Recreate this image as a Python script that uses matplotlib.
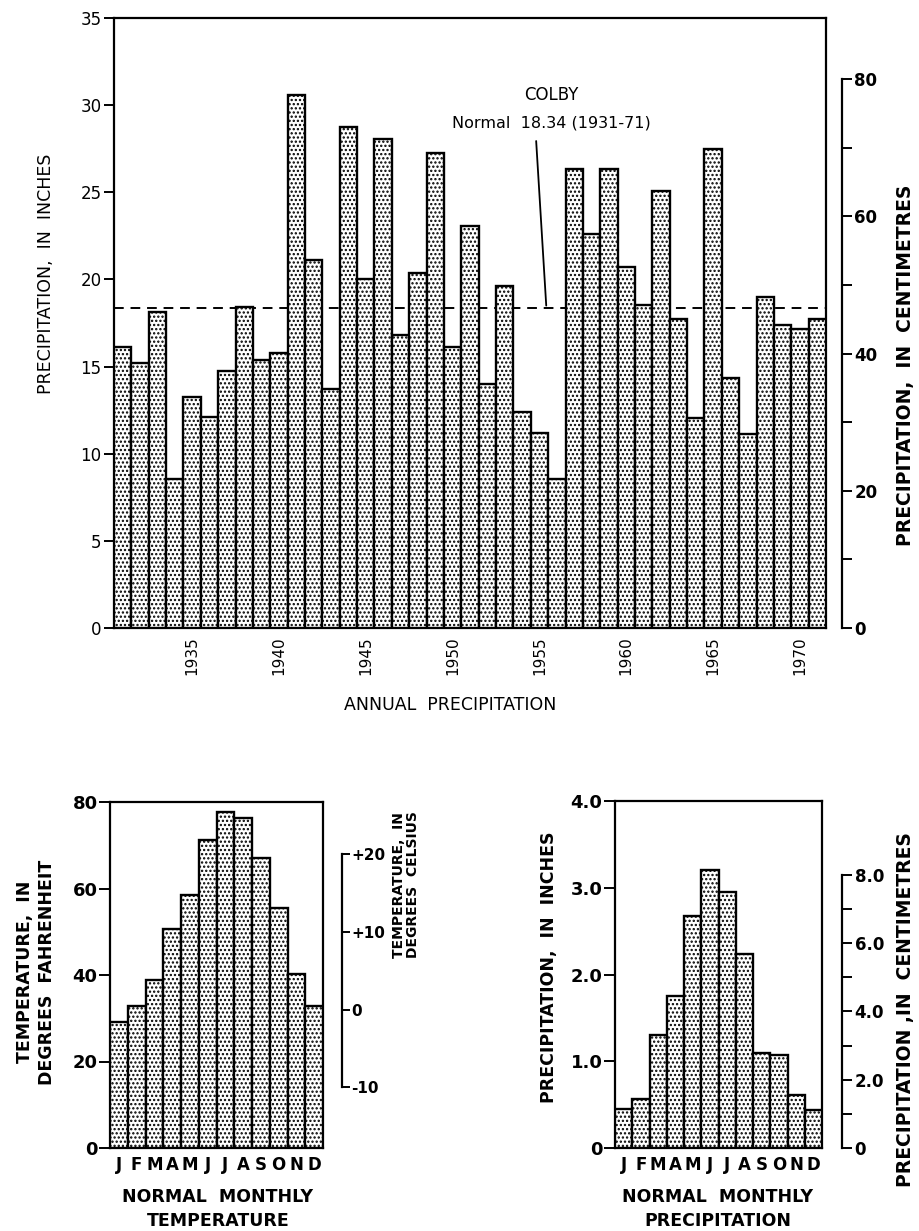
import matplotlib
matplotlib.use("Agg")
import matplotlib.pyplot as plt
import numpy as np
from matplotlib.ticker import FixedLocator, FuncFormatter

# ---------------- data ----------------
years = list(range(1931, 1972))
annual_precip_in = [16.15, 15.19, 18.11, 8.54, 13.25, 12.10, 14.72, 18.43, 15.36, 15.77,
                    30.60, 21.14, 13.74, 28.72, 20.05, 28.06, 16.81, 20.37, 27.25, 16.11,
                    23.08, 13.98, 19.62, 12.42, 11.19, 8.54, 26.32, 22.59, 26.36, 20.69,
                    18.54, 25.06, 17.75, 12.06, 27.47, 14.32, 11.14, 19.01, 17.39, 17.17, 17.75]
normal_precip = 18.34
year_ticks = [1935, 1940, 1945, 1950, 1955, 1960, 1965, 1970]

months = ["J", "F", "M", "A", "M", "J", "J", "A", "S", "O", "N", "D"]
monthly_temp_f = [29.1, 32.9, 38.8, 50.7, 58.4, 71.3, 77.8, 76.3, 67.1, 55.5, 40.3, 32.9]
monthly_precip_in = [0.45, 0.57, 1.30, 1.75, 2.68, 3.21, 2.95, 2.24, 1.10, 1.07, 0.61, 0.44]

W, H = 919, 1231
plt.rcParams['font.family'] = ['DejaVu Sans']
plt.rcParams['hatch.linewidth'] = 1.1
fig = plt.figure(figsize=(W / 100, H / 100), dpi=100)


def rect(l, t, r, b):
    return [l / W, 1 - b / H, (r - l) / W, (b - t) / H]


def fx(p):
    return p / W


def fy(p):
    return 1 - p / H


SP_LW = 1.6
BAR_LW = 1.7
HATCH = '....'

# ---------------- top chart ----------------
ax = fig.add_axes(rect(114, 18, 826, 628))
ax.bar(years, annual_precip_in, width=1.0, color='white', edgecolor='black',
       linewidth=BAR_LW, hatch=HATCH, zorder=3)
ax.axhline(normal_precip, color='black', lw=1.4, ls=(0, (5, 3.5)), zorder=2)
ax.set_xlim(1930.5, 1971.5)
ax.set_ylim(0, 35)
ax.set_yticks(np.arange(0, 36, 5))
ax.set_yticklabels([str(v) for v in range(0, 36, 5)], fontsize=12)
ax.yaxis.set_ticks_position('both')
ax.tick_params(axis='y', direction='out', length=7, width=1.4, right=True, labelright=False, pad=2)
ax.set_xticks(year_ticks)
ax.set_xticklabels([str(y) for y in year_ticks], rotation=90, fontsize=11)
ax.tick_params(axis='x', length=0, pad=6)
for s in ax.spines.values():
    s.set_linewidth(SP_LW)
ax.annotate('', xy=(1955.4, normal_precip), xytext=(1954.8, 28.1),
            arrowprops=dict(arrowstyle='-', lw=1.3, color='black'), zorder=5)
ax.text(1955.7, 30.6, "COLBY", ha='center', va='center', fontsize=12)
ax.text(1955.7, 29.0, "Normal  18.34 (1931-71)", ha='center', va='center', fontsize=11.5)
fig.text(fx(46), fy(274), "PRECIPITATION,  IN  INCHES", rotation=90, ha='center',
         va='center', fontsize=12.5)

axc = ax.twinx()
axc.set_ylim(0, 35 * 2.54)
for k in ['left', 'top', 'bottom']:
    axc.spines[k].set_visible(False)
axc.spines['right'].set_position(('outward', 11.5))
axc.spines['right'].set_bounds(0, 80)
axc.spines['right'].set_linewidth(SP_LW)
axc.yaxis.set_major_locator(FixedLocator(list(range(0, 81, 10))))
axc.yaxis.set_major_formatter(FuncFormatter(lambda v, p: str(int(v)) if int(v) % 20 == 0 else ''))
axc.tick_params(axis='y', direction='out', length=7, width=1.4, labelsize=12, pad=2)
for t in axc.get_yticklabels():
    t.set_fontweight('bold')
fig.text(fx(905), fy(365), "PRECIPITATION,  IN  CENTIMETRES", rotation=90, ha='center',
         va='center', fontsize=13.5, fontweight='bold')
fig.text(fx(450), fy(705), "ANNUAL  PRECIPITATION", ha='center', va='center', fontsize=12.5)

# ---------------- bottom-left: temperature ----------------
x = np.arange(12)
axt = fig.add_axes(rect(110, 802, 323, 1148))
axt.bar(x, monthly_temp_f, width=1.0, color='white', edgecolor='black',
        linewidth=BAR_LW, hatch=HATCH, zorder=3)
axt.set_xlim(-0.5, 11.5)
axt.set_ylim(0, 80)
axt.set_yticks([0, 20, 40, 60, 80])
axt.set_yticklabels(['0', '20', '40', '60', '80'], fontsize=13, fontweight='bold')
axt.yaxis.set_ticks_position('both')
axt.tick_params(axis='y', direction='out', length=8, width=1.4, right=True, labelright=False, pad=1)
axt.set_xticks(x)
axt.set_xticklabels(months, fontsize=12, fontweight='bold')
axt.tick_params(axis='x', length=0, pad=6)
for s in axt.spines.values():
    s.set_linewidth(SP_LW)

axtc = axt.twinx()
axtc.set_ylim((0 - 32) / 1.8, (80 - 32) / 1.8)
for k in ['left', 'top', 'bottom']:
    axtc.spines[k].set_visible(False)
axtc.spines['right'].set_position(('outward', 13.5))
axtc.spines['right'].set_bounds(-10, 20)
axtc.spines['right'].set_linewidth(SP_LW)
axtc.set_yticks([-10, 0, 10, 20])
axtc.set_yticklabels(['-10', '0', '+10', '+20'], fontsize=11, fontweight='bold')
axtc.tick_params(axis='y', direction='out', length=6, width=1.4, pad=1)

fig.text(fx(36), fy(972), "TEMPERATURE,  IN\nDEGREES  FAHRENHEIT", rotation=90, ha='center',
         va='center', fontsize=12.5, fontweight='bold', linespacing=1.3, multialignment='center')
fig.text(fx(406), fy(885), "TEMPERATURE,  IN\nDEGREES  CELSIUS", rotation=90, ha='center',
         va='center', fontsize=10, fontweight='bold', linespacing=1.05, multialignment='center')
fig.text(fx(218), fy(1209), "NORMAL  MONTHLY\nTEMPERATURE", ha='center', va='center',
         fontsize=12.5, fontweight='bold', linespacing=1.4)

# ---------------- bottom-right: precipitation ----------------
axp = fig.add_axes(rect(615, 801, 822, 1148))
axp.bar(x, monthly_precip_in, width=1.0, color='white', edgecolor='black',
        linewidth=BAR_LW, hatch=HATCH, zorder=3)
axp.set_xlim(-0.5, 11.5)
axp.set_ylim(0, 4.0)
axp.set_yticks([0, 1, 2, 3, 4])
axp.set_yticklabels(['0', '1.0', '2.0', '3.0', '4.0'], fontsize=13, fontweight='bold')
axp.yaxis.set_ticks_position('both')
axp.tick_params(axis='y', direction='out', length=8, width=1.4, right=True, labelright=False, pad=1)
axp.set_xticks(x)
axp.set_xticklabels(months, fontsize=12, fontweight='bold')
axp.tick_params(axis='x', length=0, pad=6)
for s in axp.spines.values():
    s.set_linewidth(SP_LW)

axpc = axp.twinx()
axpc.set_ylim(0, 4.0 * 2.54)
for k in ['left', 'top', 'bottom']:
    axpc.spines[k].set_visible(False)
axpc.spines['right'].set_position(('outward', 14.5))
axpc.spines['right'].set_bounds(0, 8)
axpc.spines['right'].set_linewidth(SP_LW)
axpc.yaxis.set_major_locator(FixedLocator(list(range(0, 9))))
axpc.yaxis.set_major_formatter(FuncFormatter(
    lambda v, p: ('0' if int(round(v)) == 0 else '%.1f' % v) if int(round(v)) % 2 == 0 else ''))
axpc.tick_params(axis='y', direction='out', length=7, width=1.4, labelsize=12, pad=2)
for t in axpc.get_yticklabels():
    t.set_fontweight('bold')

fig.text(fx(549), fy(967), "PRECIPITATION,  IN  INCHES", rotation=90, ha='center',
         va='center', fontsize=12.5, fontweight='bold')
fig.text(fx(906), fy(1010), "PRECIPITATION ,IN  CENTIMETRES", rotation=90, ha='center',
         va='center', fontsize=13.5, fontweight='bold')
fig.text(fx(718), fy(1209), "NORMAL  MONTHLY\nPRECIPITATION", ha='center', va='center',
         fontsize=12.5, fontweight='bold', linespacing=1.4)

fig.savefig("out.png", dpi=100)
